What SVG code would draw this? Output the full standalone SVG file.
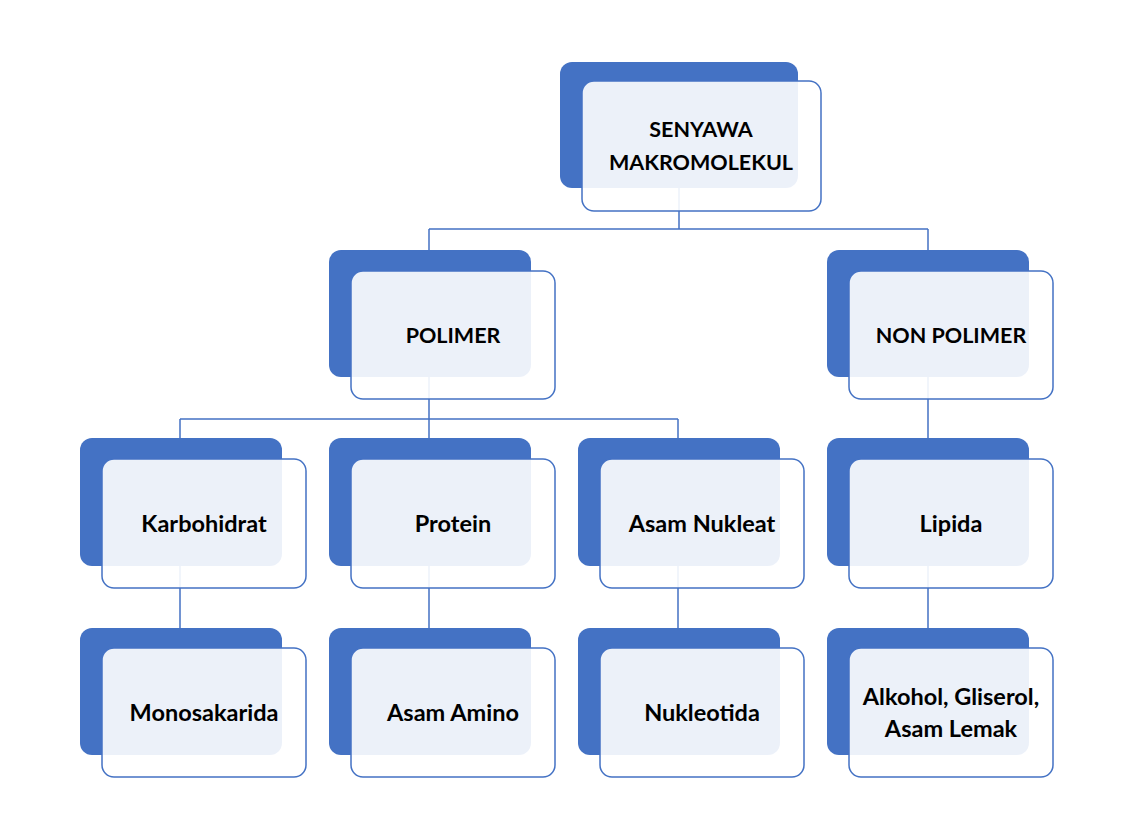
<svg xmlns="http://www.w3.org/2000/svg" width="1131" height="828" viewBox="0 0 1131 828">
<style>
.bk{fill:#4472C4}
.fr{fill:#FFFFFF;fill-opacity:0.9;stroke:#4472C4;stroke-width:1.5}
.cn{fill:none;stroke:#4472C4;stroke-width:1.5}
text{font-family:"Lato","Noto Sans",sans-serif;font-weight:bold;font-size:23.5px;fill:#000;text-anchor:middle;dominant-baseline:central}
text.up{font-size:21.5px}
</style>
<rect width="1131" height="828" fill="#FFFFFF"/>
<g id="connectors">
<path class="cn" d="M679 188V229M429 229H928M429 229V250M928 229V250"/>
<path class="cn" d="M429 377V419M180 419H678M180 419V438M429 419V438M678 419V438M928 377V438"/>
<path class="cn" d="M180 566V628M429 566V628M678 566V628M928 566V628"/>
</g>
<g id="n-senyawa">
<rect class="bk" x="560" y="62" width="238" height="126" rx="12"/>
<rect class="fr" x="582" y="81" width="239" height="130" rx="12"/>
<text class="up" x="701" y="129">SENYAWA</text>
<text class="up" x="701" y="162">MAKROMOLEKUL</text>
</g>
<g id="n-polimer">
<rect class="bk" x="329" y="250" width="202" height="127" rx="12"/>
<rect class="fr" x="351" y="271" width="204" height="128" rx="12"/>
<text class="up" x="453" y="335">POLIMER</text>
</g>
<g id="n-nonpolimer">
<rect class="bk" x="827" y="250" width="202" height="127" rx="12"/>
<rect class="fr" x="849" y="271" width="204" height="128" rx="12"/>
<text class="up" x="951" y="335">NON POLIMER</text>
</g>
<g id="n-karbohidrat">
<rect class="bk" x="80" y="438" width="202" height="128" rx="12"/>
<rect class="fr" x="102" y="459" width="204" height="129" rx="12"/>
<text x="204" y="523">Karbohidrat</text>
</g>
<g id="n-protein">
<rect class="bk" x="329" y="438" width="202" height="128" rx="12"/>
<rect class="fr" x="351" y="459" width="204" height="129" rx="12"/>
<text x="453" y="523">Protein</text>
</g>
<g id="n-asamnukleat">
<rect class="bk" x="578" y="438" width="202" height="128" rx="12"/>
<rect class="fr" x="600" y="459" width="204" height="129" rx="12"/>
<text x="702" y="523">Asam Nukleat</text>
</g>
<g id="n-lipida">
<rect class="bk" x="827" y="438" width="202" height="128" rx="12"/>
<rect class="fr" x="849" y="459" width="204" height="129" rx="12"/>
<text x="951" y="523">Lipida</text>
</g>
<g id="n-monosakarida">
<rect class="bk" x="80" y="628" width="202" height="127" rx="12"/>
<rect class="fr" x="102" y="648" width="204" height="129" rx="12"/>
<text x="204" y="712">Monosakarida</text>
</g>
<g id="n-asamamino">
<rect class="bk" x="329" y="628" width="202" height="127" rx="12"/>
<rect class="fr" x="351" y="648" width="204" height="129" rx="12"/>
<text x="453" y="712">Asam Amino</text>
</g>
<g id="n-nukleotida">
<rect class="bk" x="578" y="628" width="202" height="127" rx="12"/>
<rect class="fr" x="600" y="648" width="204" height="129" rx="12"/>
<text x="702" y="712">Nukleotida</text>
</g>
<g id="n-alkohol">
<rect class="bk" x="827" y="628" width="202" height="127" rx="12"/>
<rect class="fr" x="849" y="648" width="204" height="129" rx="12"/>
<text x="951" y="696">Alkohol, Gliserol,</text>
<text x="951" y="728">Asam Lemak</text>
</g>
</svg>
